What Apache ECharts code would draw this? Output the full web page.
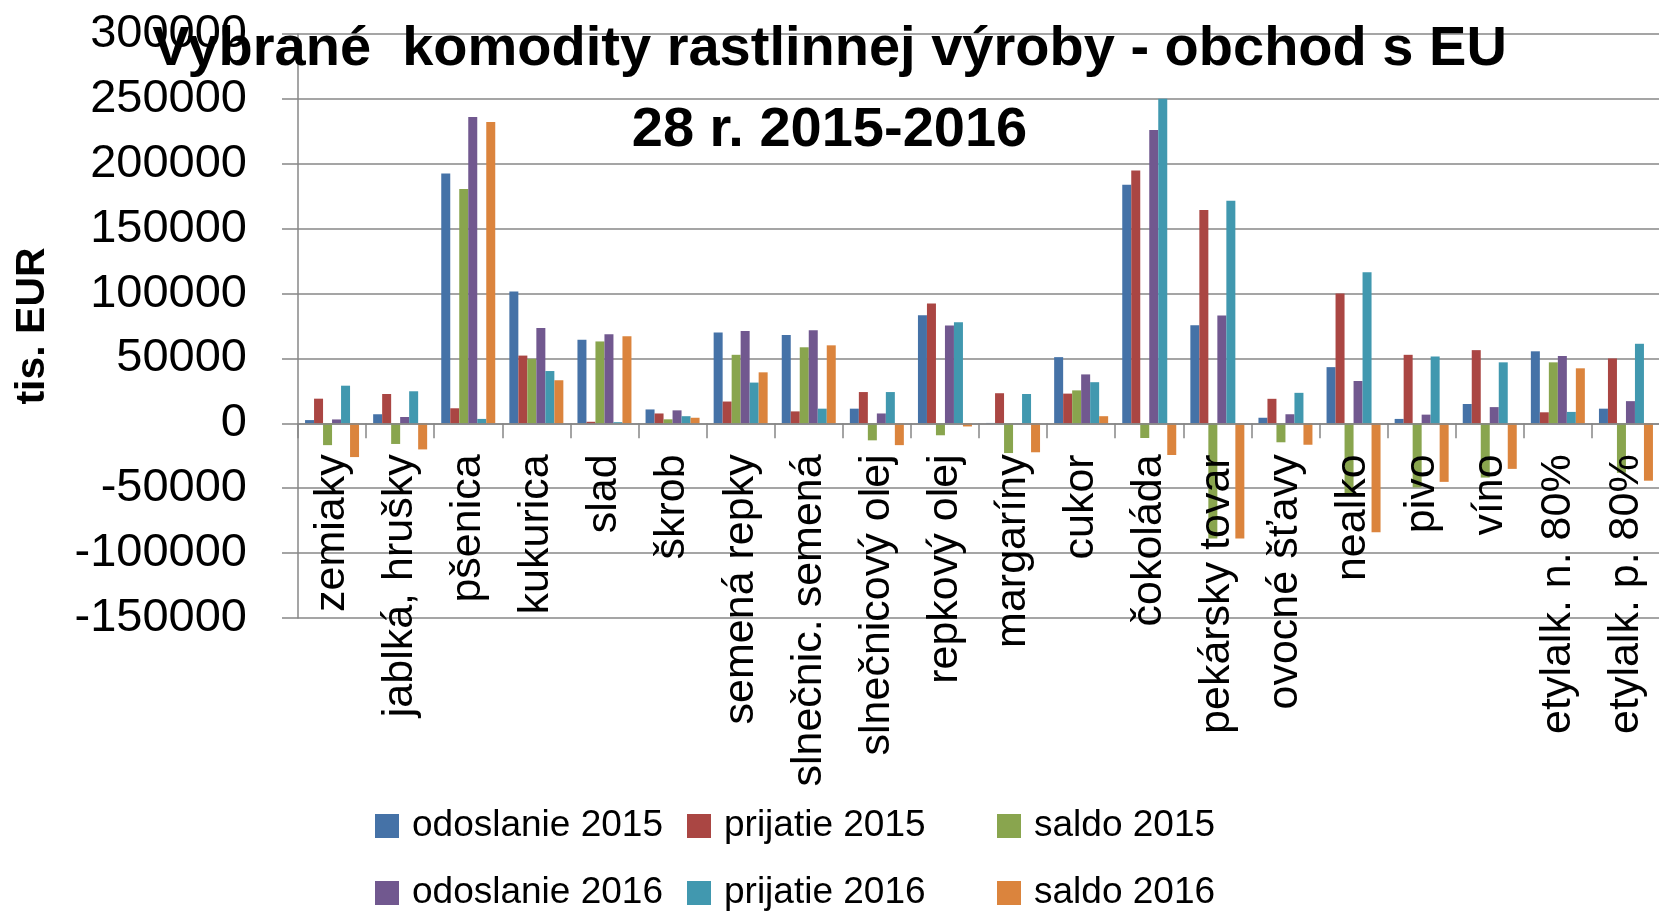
<!DOCTYPE html>
<html>
<head>
<meta charset="utf-8">
<title>Vybrané komodity rastlinnej výroby - obchod s EU 28</title>
<script src="https://cdn.jsdelivr.net/npm/echarts@6/dist/echarts.min.js"></script>
<style>
  html, body { margin: 0; padding: 0; background: #fff; }
  #chart { width: 1659px; height: 913px; }
</style>
</head>
<body>
<div id="chart"></div>
<script>
// komodity (os x)
var categories = ['zemiaky', 'jablká, hrušky', 'pšenica', 'kukurica', 'slad', 'škrob',
  'semená repky', 'slnečnic. semená', 'slnečnicový olej', 'repkový olej', 'margaríny',
  'cukor', 'čokoláda', 'pekársky tovar', 'ovocné šťavy', 'nealko', 'pivo', 'víno',
  'etylalk. n. 80%', 'etylalk. p. 80%'];

// hodnoty v tis. EUR
var odoslanie2015 = [2500, 7000, 192500, 101600, 64400, 10700, 69900, 68000, 11300, 83300,
  300, 51000, 183900, 75600, 4300, 43300, 3400, 14900, 55500, 11300];
var prijatie2015 = [19000, 22600, 11600, 52200, 1200, 7600, 16800, 9200, 24100, 92400,
  23200, 22900, 194900, 164400, 18900, 100100, 52800, 56400, 8500, 50000];
var saldo2015 = [-16800, -15900, 180600, 49700, 63100, 3100, 52800, 58600, -13100, -9200,
  -22900, 25400, -11300, -88800, -14600, -54000, -49400, -41800, 47000, -38100];
var odoslanie2016 = [3000, 4900, 236100, 73500, 68600, 10000, 71100, 71700, 7600, 75300,
  200, 37700, 226100, 83000, 7000, 32600, 6700, 12500, 51900, 17100];
var prijatie2016 = [29000, 24700, 3400, 40300, 900, 5500, 31400, 11300, 24100, 77800,
  22600, 31700, 250100, 171500, 23500, 116500, 51500, 47000, 8800, 61300];
var saldo2016 = [-26000, -20100, 232200, 33200, 67100, 4300, 39300, 60100, -16800, -2400,
  -22300, 5500, -24400, -88800, -16500, -83900, -45100, -35100, 42400, -44200];

// popisy osi y
var yTicks = [-150000, -100000, -50000, 0, 50000, 100000, 150000, 200000, 250000, 300000];

var gridGray = '#878787';
var font = 'Liberation Sans, Arial, sans-serif';

// plot area in px
var plotTop = 34;
var plotBottom = 295;
var plotHeight = 913 - plotTop - plotBottom;
// distance of the zero line above the bottom of the plot
var zeroShift = plotHeight * (0 - yTicks[0]) / (yTicks[yTicks.length - 1] - yTicks[0]);

var chart = echarts.init(document.getElementById('chart'));

function serie(name, data) {
  return {
    name: name,
    type: 'bar',
    data: data,
    barWidth: 9,
    barGap: '0%'
  };
}

function colLegend(left, names) {
  return {
    orient: 'vertical',
    left: left,
    top: 806,
    padding: 0,
    itemGap: 27,
    itemWidth: 24,
    itemHeight: 24,
    icon: 'rect',
    selectedMode: false,
    data: names,
    textStyle: {
      fontFamily: font,
      fontSize: 37,
      lineHeight: 40,
      color: '#000',
      padding: [0, 0, 0, 8]
    }
  };
}

var option = {
  animation: false,
  color: ['#4572A7', '#AA4643', '#89A54E', '#71588F', '#4198AF', '#DB843D'],
  title: {
    text: 'Vybrané  komodity rastlinnej výroby - obchod s EU\n28 r. 2015-2016',
    left: 'center',
    top: 9,
    padding: 0,
    textStyle: {
      fontFamily: font,
      fontWeight: 'bold',
      fontSize: 56,
      lineHeight: 81,
      color: '#000'
    }
  },
  legend: [
    colLegend(375, ['odoslanie 2015', 'odoslanie 2016']),
    colLegend(687, ['prijatie 2015', 'prijatie 2016']),
    colLegend(997, ['saldo 2015', 'saldo 2016'])
  ],
  grid: {
    left: 298,
    right: -1,
    top: plotTop,
    bottom: plotBottom,
    containLabel: false,
    outerBoundsMode: 'none'
  },
  xAxis: {
    type: 'category',
    data: categories,
    z: 3,
    position: 'bottom',
    offset: -zeroShift,
    axisLine: { show: true, onZero: false, lineStyle: { color: gridGray, width: 1.5 } },
    axisTick: { show: true, length: 15, interval: 0, lineStyle: { color: gridGray, width: 1.5 } },
    axisLabel: {
      interval: 0,
      rotate: 90,
      margin: 31,
      fontFamily: font,
      fontSize: 43,
      color: '#000'
    },
    splitLine: { show: false }
  },
  yAxis: {
    type: 'value',
    min: yTicks[0],
    max: yTicks[yTicks.length - 1],
    interval: yTicks[1] - yTicks[0],
    name: 'tis. EUR',
    nameLocation: 'middle',
    nameRotate: 90,
    nameGap: 245,
    nameTextStyle: {
      fontFamily: font,
      fontWeight: 'bold',
      fontSize: 41,
      color: '#000'
    },
    axisLine: { show: true, lineStyle: { color: gridGray, width: 1.5 } },
    axisTick: { show: true, length: 16, lineStyle: { color: gridGray, width: 1.5 } },
    axisLabel: {
      margin: 51,
      fontFamily: font,
      fontSize: 47,
      color: '#000',
      formatter: function (v) { return String(v); }
    },
    splitLine: { show: true, lineStyle: { color: gridGray, width: 1.5 } }
  },
  series: [
    serie('odoslanie 2015', odoslanie2015),
    serie('prijatie 2015', prijatie2015),
    serie('saldo 2015', saldo2015),
    serie('odoslanie 2016', odoslanie2016),
    serie('prijatie 2016', prijatie2016),
    serie('saldo 2016', saldo2016)
  ]
};

chart.setOption(option);
</script>
</body>
</html>
